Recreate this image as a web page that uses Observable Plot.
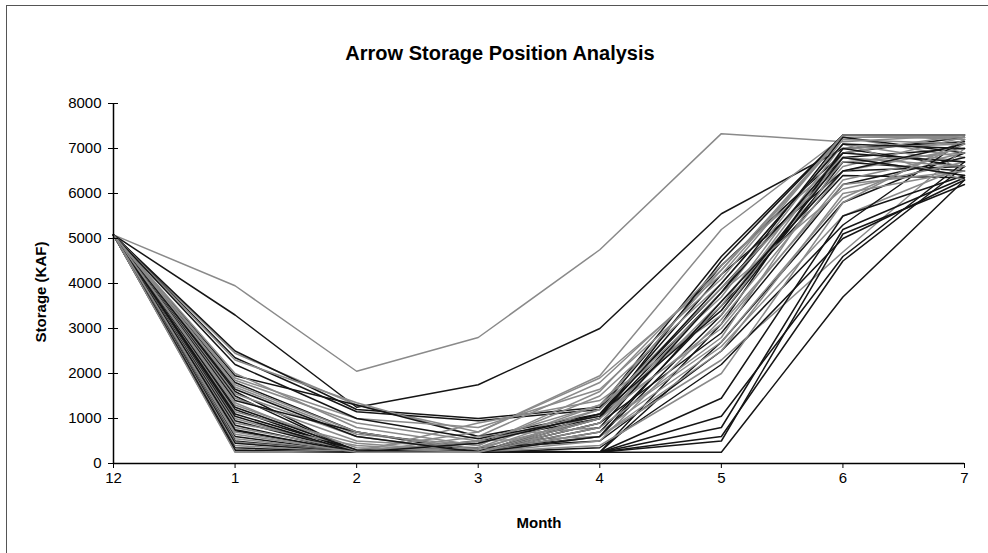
<!DOCTYPE html>
<html>
<head>
<meta charset="utf-8">
<script src="https://cdn.jsdelivr.net/npm/d3@7"></script>
<script src="https://cdn.jsdelivr.net/npm/@observablehq/plot@0.6"></script>
<style>
  body { margin: 0; background: #fff; }
  #wrap { position: relative; width: 988px; height: 553px; overflow: hidden; font-family: "Liberation Sans", Arial, sans-serif; color: #000; }
  #frame { position: absolute; left: 6px; top: 5px; width: 990px; height: 600px; border-left: 1px solid #555; border-top: 1px solid #555; }
  #title { position: absolute; top: 42px; left: 0; width: 1000px; text-align: center; font-weight: bold; font-size: 20px; }
  #ylab { position: absolute; left: 40px; top: 292px; transform: translate(-50%, -50%) rotate(-90deg); font-weight: bold; font-size: 15px; white-space: nowrap; }
  #xlab { position: absolute; left: 539px; top: 522px; transform: translate(-50%, -50%); font-weight: bold; font-size: 15px; }
  #chart { position: absolute; left: 0; top: 0; }
</style>
</head>
<body>
<div id="wrap">
  <div id="frame"></div>
  <div id="chart"></div>
  <div id="title">Arrow Storage Position Analysis</div>
  <div id="ylab">Storage (KAF)</div>
  <div id="xlab">Month</div>
</div>
<script>
// Month labels along x (December through July)
const monthLabels = ["12", "1", "2", "3", "4", "5", "6", "7"];
const yTicks = [0, 1000, 2000, 3000, 4000, 5000, 6000, 7000, 8000];
// All traces start at the same December storage
const startStorage = 5080;
// Storage (KAF) for months 1..7 of each trace
const runs = [
  [3950, 2050, 2800, 4750, 7330, 7150, 7300],
  [3300, 1250, 1750, 3000, 5550, 7000, 7150],
  [2450, 1300, 700, 1950, 5200, 7250, 7250],
  [2500, 1200, 1000, 1250, 4600, 7300, 7300],
  [2350, 1150, 950, 1200, 4400, 6900, 7250],
  [2300, 1350, 600, 1800, 4300, 7250, 6800],
  [1950, 1300, 600, 1100, 4200, 6500, 6600],
  [1900, 1000, 800, 1650, 4100, 7300, 7200],
  [1800, 700, 250, 1100, 3900, 6800, 7000],
  [1700, 650, 400, 1500, 4000, 7100, 6700],
  [1600, 250, 500, 1000, 3800, 7250, 6900],
  [1550, 600, 250, 900, 3600, 6600, 7250],
  [1500, 250, 250, 700, 3500, 6400, 6350],
  [1450, 500, 350, 1300, 3400, 7000, 7100],
  [1400, 700, 300, 600, 3300, 6700, 6500],
  [1350, 250, 900, 1400, 3300, 6900, 7300],
  [1200, 250, 250, 250, 3100, 7000, 6600],
  [1150, 450, 250, 1100, 3000, 6300, 6900],
  [1100, 300, 250, 900, 2900, 6200, 6800],
  [1000, 250, 600, 800, 2800, 6800, 6400],
  [950, 250, 250, 250, 2700, 5800, 6900],
  [900, 400, 250, 700, 2600, 5500, 6600],
  [850, 250, 350, 500, 2500, 5300, 7200],
  [800, 300, 250, 600, 2300, 4700, 7000],
  [730, 250, 250, 350, 2200, 5000, 6300],
  [700, 250, 450, 1200, 3700, 7200, 7100],
  [600, 250, 300, 250, 1450, 5500, 6400],
  [550, 250, 250, 900, 3800, 6100, 6700],
  [500, 250, 250, 250, 1050, 4600, 6700],
  [480, 250, 500, 600, 2500, 6000, 6500],
  [450, 250, 250, 250, 800, 5200, 6350],
  [400, 250, 250, 500, 3200, 6500, 7000],
  [350, 250, 250, 250, 600, 4500, 6600],
  [300, 250, 350, 1000, 3500, 7100, 6300],
  [300, 250, 250, 250, 500, 5100, 6200],
  [250, 250, 250, 400, 2000, 5800, 7200],
  [290, 250, 250, 250, 250, 3700, 6300],
  [250, 300, 700, 1900, 4200, 7300, 7250],
  [1650, 600, 250, 1000, 4500, 7300, 7300],
  [2000, 800, 400, 1600, 4400, 6800, 6600],
  [1250, 300, 250, 800, 3800, 6900, 6700],
  [1750, 700, 300, 1200, 3900, 6700, 6900],
  [1050, 250, 250, 600, 3600, 6500, 7100],
  [1300, 350, 250, 1000, 3100, 6200, 6500],
  [750, 250, 450, 1100, 3400, 6800, 6400],
  [650, 250, 250, 800, 2700, 5900, 7100],
  [2200, 1000, 550, 1050, 4000, 7100, 7000],
  [1850, 900, 500, 1300, 4300, 7300, 7300]
];
// Line shade per trace: k = black, g = gray
const runShade = ["g","k","g","k","k","g","k","g","k","g","k","g","k","g","k","g","k","g","k","g","k","g","k","g","k","g","k","g","k","g","k","g","k","g","k","g","k","g","k","g","k","g","k","g","k","g","k","g"];

const shadeColor = { k: "#151515", g: "#8a8a8a" };
const rows = [];
runs.forEach((r, i) => {
  [startStorage, ...r].forEach((v, j) => rows.push({ run: i, m: j, v, c: shadeColor[runShade[i]] }));
});

const chart = Plot.plot({
  width: 988,
  height: 553,
  marginLeft: 113,
  marginRight: 24,
  marginTop: 103,
  marginBottom: 90,
  x: { domain: [0, 7], label: null },
  y: { domain: [0, 8000], label: null },
  color: { type: "identity" },
  style: { fontFamily: "'Liberation Sans', Arial, sans-serif", fontSize: "15px", color: "#000", background: "transparent" },
  marks: [
    Plot.line(rows, { x: "m", y: "v", z: "run", stroke: "c", strokeWidth: 1.5 }),
    Plot.ruleY([0], { stroke: "#000", strokeWidth: 1.5 }),
    Plot.ruleX([0], { stroke: "#000", strokeWidth: 1.5 }),
    Plot.axisY(yTicks, { tickSize: 10, dx: 5, tickFormat: () => "", label: null, stroke: "#000" }),
    Plot.axisY(yTicks, { tickSize: 0, tickPadding: 12, tickFormat: d => String(d), label: null, fill: "#000", fontSize: 15 }),
    Plot.axisX(d3.range(8), { tickSize: 5, tickPadding: 4, tickFormat: i => monthLabels[i], label: null, fill: "#000", stroke: "#000", fontSize: 15 })
  ]
});
document.getElementById("chart").appendChild(chart);
</script>
</body>
</html>
